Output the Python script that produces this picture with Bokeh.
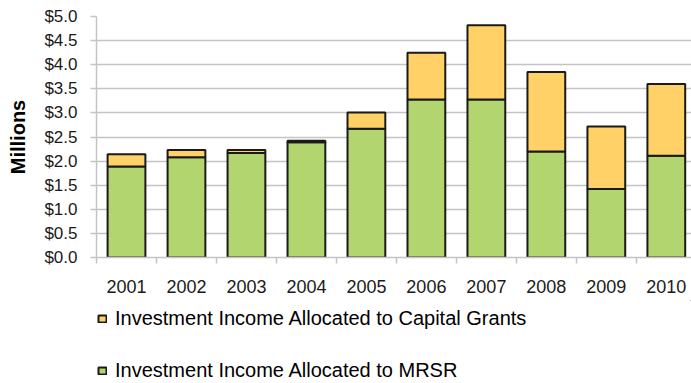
from bokeh.plotting import figure
from bokeh.models import FixedTicker, Legend, LegendItem, ColumnDataSource, Range1d
from bokeh.layouts import column
from bokeh.embed import file_html
from bokeh.resources import INLINE

years = ["2001", "2002", "2003", "2004", "2005", "2006", "2007", "2008", "2009", "2010"]
mrsr = [1.89, 2.08, 2.17, 2.39, 2.67, 3.28, 3.28, 2.20, 1.42, 2.11]
capital = [0.25, 0.15, 0.06, 0.03, 0.34, 0.97, 1.54, 1.65, 1.30, 1.49]
y_ticks = [0.0, 0.5, 1.0, 1.5, 2.0, 2.5, 3.0, 3.5, 4.0, 4.5, 5.0]
y_labels = ["$%.1f" % t for t in y_ticks]
series_names = ["Investment Income Allocated to Capital Grants",
                "Investment Income Allocated to MRSR"]

xs = list(range(1, len(years) + 1))
src = ColumnDataSource(dict(x=xs, mrsr=mrsr, capital=capital,
                            total=[a + b for a, b in zip(mrsr, capital)]))

FONT = "Liberation Sans"
GREEN = "#B3D56F"
YELLOW = "#FFD166"
GRID = "#C4C4C4"
EDGE = "#1a1a1a"

p = figure(width=691, height=300, output_backend="svg", toolbar_location=None,
           x_range=Range1d(0.5, 10.42), y_range=Range1d(0, 5.0),
           min_border_left=96, min_border_right=0, min_border_top=16, min_border_bottom=43)
p.outline_line_color = None

p.vbar(x="x", bottom=0, top="mrsr", width=0.63, source=src,
       fill_color=GREEN, line_color=EDGE, line_width=2)
p.vbar(x="x", bottom="mrsr", top="total", width=0.63, source=src,
       fill_color=YELLOW, line_color=EDGE, line_width=2)

p.xgrid.grid_line_color = None
p.ygrid.grid_line_color = GRID
p.ygrid.grid_line_width = 1.5
p.yaxis.ticker = FixedTicker(ticks=y_ticks)
p.yaxis.major_label_overrides = {t: l for t, l in zip(y_ticks, y_labels)}
p.yaxis.minor_tick_line_color = None
p.yaxis.major_tick_out = 6
p.yaxis.major_tick_in = 0
p.yaxis.axis_line_color = GRID
p.yaxis.axis_line_width = 1.5
p.yaxis.major_tick_line_color = GRID
p.yaxis.major_tick_line_width = 1.5
p.yaxis.major_label_text_font = FONT
p.yaxis.major_label_text_font_size = "17px"
p.yaxis.major_label_text_color = EDGE
p.yaxis.major_label_standoff = 13
p.yaxis.axis_label = "Millions"
p.yaxis.axis_label_text_font = FONT
p.yaxis.axis_label_text_font_style = "bold"
p.yaxis.axis_label_text_font_size = "20px"
p.yaxis.axis_label_text_color = "#000000"
p.yaxis.axis_label_standoff = 12

p.xaxis.ticker = FixedTicker(ticks=xs, minor_ticks=[x - 0.5 for x in xs] + [10.5])
p.xaxis.major_label_overrides = {x: y for x, y in zip(xs, years)}
p.xaxis.major_tick_line_color = None
p.xaxis.major_tick_out = 0
p.xaxis.minor_tick_out = 6
p.xaxis.minor_tick_in = 0
p.xaxis.minor_tick_line_color = GRID
p.xaxis.minor_tick_line_width = 1.5
p.xaxis.axis_line_color = GRID
p.xaxis.axis_line_width = 1.5
p.xaxis.major_label_text_font = FONT
p.xaxis.major_label_text_font_size = "18px"
p.xaxis.major_label_text_color = EDGE
p.xaxis.major_label_standoff = 16

# legend-only figure below the chart (its swatch renderers sit far outside the visible range)
lf = figure(width=691, height=83, output_backend="svg", toolbar_location=None,
            x_range=Range1d(0, 1), y_range=Range1d(0, 1),
            min_border_left=0, min_border_right=0, min_border_top=0, min_border_bottom=0)
lf.axis.visible = False
lf.grid.visible = False
lf.outline_line_color = None
ly = lf.vbar(x=[50], bottom=[50], top=[51], width=0.5, fill_color=YELLOW, line_color=EDGE, line_width=2)
lg = lf.vbar(x=[50], bottom=[50], top=[51], width=0.5, fill_color=GREEN, line_color=EDGE, line_width=2)

legend = Legend(items=[
    LegendItem(label=series_names[0], renderers=[ly]),
    LegendItem(label=series_names[1], renderers=[lg]),
], orientation="vertical")
legend.label_text_font = FONT
legend.label_text_font_size = "20px"
legend.label_text_color = "#000000"
legend.glyph_width = 10
legend.glyph_height = 9
legend.label_height = 22
legend.spacing = 29
legend.label_standoff = 8
legend.border_line_color = None
legend.background_fill_alpha = 0
legend.margin = 0
legend.padding = 0
legend.location = (1, 1)
lf.add_layout(legend, "center")

open("out.html", "w").write(file_html(column(p, lf), INLINE))
